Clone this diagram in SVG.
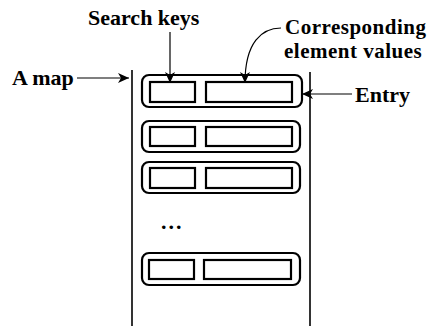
<svg xmlns="http://www.w3.org/2000/svg" width="430" height="326" viewBox="0 0 430 326">
<defs>
<style>
text{font-family:"Liberation Serif","Times New Roman",serif;font-weight:bold;font-size:22px;fill:#000}
.two{font-size:21px;letter-spacing:0.5px}
.outer{fill:none;stroke:#000;stroke-width:2.2}
.inner{fill:none;stroke:#000;stroke-width:2.2}
.wall{stroke:#000;stroke-width:1.6;fill:none}
.conn{stroke:#000;stroke-width:1.2;fill:none}
</style>
<marker id="ah" markerUnits="userSpaceOnUse" markerWidth="12" markerHeight="10" refX="11" refY="5" orient="auto">
<path d="M0,0 L11,5 L0,10 L3,5 z" fill="#000"/>
</marker>
</defs>
<rect width="430" height="326" fill="#fff"/>
<g id="map">
<line class="wall" x1="132" y1="70" x2="132" y2="326"/>
<line class="wall" x1="310" y1="72" x2="310" y2="326"/>
</g>
<g id="entry1">
<rect class="outer" x="142" y="75" width="160" height="32" rx="7"/>
<rect class="inner" x="150" y="82" width="45" height="20"/>
<rect class="inner" x="206" y="82" width="86" height="20"/>
</g>
<g id="entry2">
<rect class="outer" x="142" y="121" width="158" height="31" rx="7"/>
<rect class="inner" x="150" y="127" width="45" height="19"/>
<rect class="inner" x="206" y="127" width="86" height="19"/>
</g>
<g id="entry3">
<rect class="outer" x="142" y="162" width="158" height="31" rx="7"/>
<rect class="inner" x="150" y="168" width="45" height="20"/>
<rect class="inner" x="206" y="168" width="86" height="20"/>
</g>
<g id="ellipsis">
<text x="161" y="229" style="font-weight:bold;letter-spacing:2px">...</text>
</g>
<g id="entry4">
<rect class="outer" x="142" y="253" width="158" height="32" rx="7"/>
<rect class="inner" x="149" y="260" width="45" height="19"/>
<rect class="inner" x="204" y="260" width="87" height="19"/>
</g>
<g id="labels">
<text x="88" y="25">Search keys</text>
<text class="two" x="285" y="34">Corresponding</text>
<text class="two" x="284" y="58">element values</text>
<text x="12" y="85">A map</text>
<text x="355" y="102">Entry</text>
</g>
<g id="connectors">
<line class="conn" x1="170" y1="32" x2="170" y2="83" marker-end="url(#ah)"/>
<path class="conn" d="M281,28 C262,28 245,42 245,83" marker-end="url(#ah)"/>
<line class="conn" x1="77" y1="78" x2="129" y2="78" marker-end="url(#ah)"/>
<line class="conn" x1="352" y1="94" x2="302" y2="94" marker-end="url(#ah)"/>
</g>
</svg>
